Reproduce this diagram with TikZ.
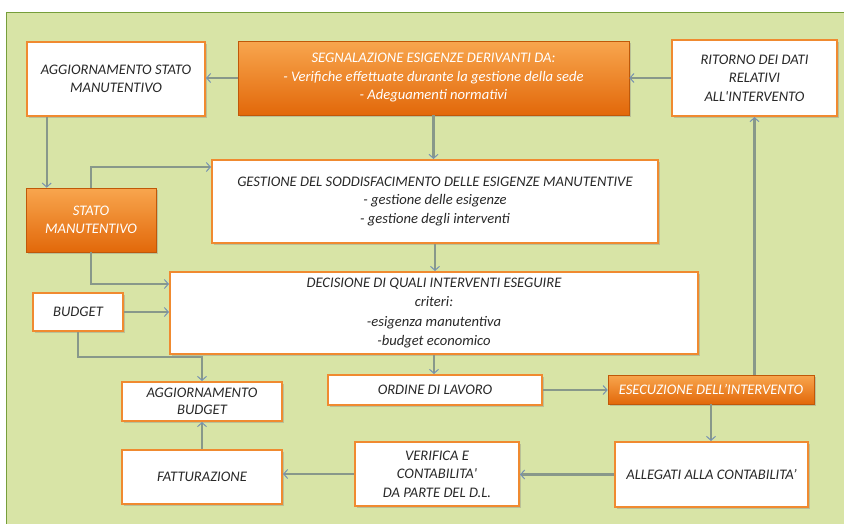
\documentclass[tikz,border=0pt]{standalone}
\usepackage{fontspec}
\setmainfont{Carlito}
\usetikzlibrary{arrows.meta,shadows}
\definecolor{panel}{RGB}{216,228,166}
\definecolor{panelb}{RGB}{118,158,58}
\definecolor{obord}{RGB}{240,138,48}
\definecolor{otop}{RGB}{248,166,78}
\definecolor{obot}{RGB}{226,104,10}
\definecolor{lin}{RGB}{136,152,138}
\definecolor{tip}{RGB}{118,146,178}
\definecolor{txt}{RGB}{40,40,40}
\begin{document}
\begin{tikzpicture}[x=1pt,y=-1pt,
  box/.style={rectangle, inner sep=0pt, align=center,
    font=\fontsize{14.6}{18.5}\selectfont\itshape,
    drop shadow={opacity=0.35,shadow xshift=1.5pt,shadow yshift=-1.5pt}},
  wbox/.style={box, draw=obord, line width=2pt, fill=white, text=txt},
  obox/.style={box, draw=obot!85!black, line width=0.6pt, top color=otop, bottom color=obot, text=white},
  conn/.style={draw=lin, line width=2.2pt,
    -{Straight Barb[length=4pt,width=9pt,line width=1pt,color=tip]}}
]
\useasboundingbox (0,0) rectangle (844,523);
\fill[white] (0,0) rectangle (844,523);
\draw[draw=panelb, fill=panel, line width=1pt] (6.5,12) rectangle (860,540);

\node[wbox, minimum width=178pt, minimum height=74pt] (aggst) at (116,79) {AGGIORNAMENTO STATO\\MANUTENTIVO};
\node[obox, minimum width=391pt, minimum height=74pt] (segn) at (433.5,78) {SEGNALAZIONE ESIGENZE DERIVANTI DA:\\- Verifiche effettuate durante la gestione della sede\\- Adeguamenti normativi};
\node[wbox, minimum width=165pt, minimum height=76pt] (rit) at (754.5,78) {RITORNO DEI DATI\\RELATIVI\\ALL\textquotesingle INTERVENTO};
\node[wbox, minimum width=446pt, minimum height=83pt] (gest) at (435,201.5) {GESTIONE DEL SODDISFACIMENTO DELLE ESIGENZE MANUTENTIVE\\- gestione delle esigenze\\- gestione degli interventi};
\node[obox, minimum width=130pt, minimum height=64pt] (stato) at (91,220) {STATO\\MANUTENTIVO};
\node[wbox, minimum width=528pt, minimum height=82pt, font=\fontsize{14.6}{19.5}\selectfont\itshape] (dec) at (434,313) {DECISIONE DI QUALI INTERVENTI ESEGUIRE\\criteri:\\-esigenza manutentiva\\-budget economico};
\node[wbox, minimum width=90pt, minimum height=38pt] (bud) at (78,312) {BUDGET};
\node[wbox, minimum width=160pt, minimum height=39pt, font=\fontsize{14.6}{17}\selectfont\itshape] (aggb) at (202,401.5) {AGGIORNAMENTO\\BUDGET};
\node[wbox, minimum width=214pt, minimum height=30pt] (ord) at (435,390) {ORDINE DI LAVORO};
\node[obox, minimum width=206pt, minimum height=29pt] (esec) at (711,389.5) {ESECUZIONE DELL’INTERVENTO};
\node[wbox, minimum width=160pt, minimum height=54pt] (fatt) at (202,477) {FATTURAZIONE};
\node[wbox, minimum width=164pt, minimum height=64pt] (ver) at (437,474) {VERIFICA E\\CONTABILITA\textquotesingle\\DA PARTE DEL D.L.};
\node[wbox, minimum width=193pt, minimum height=65pt] (alleg) at (711.5,474.5) {ALLEGATI ALLA CONTABILITA’};

\coordinate (a1) at ([xshift=21pt]stato.north west);
\draw[conn] (segn.west) -- (segn.west -| aggst.east);
\draw[conn] (rit.west) -- (rit.west -| segn.east);
\draw[conn] (segn.south) -- (segn.south |- gest.north);
\draw[conn] (a1 |- aggst.south) -- (a1);
\draw[conn] (stato.north) |- ([yshift=-8pt]gest.north west);
\draw[conn] (gest.south) -- (gest.south |- dec.north);
\draw[conn] (stato.south) |- ([yshift=-13pt]dec.north west);
\draw[conn] (bud.east) -- (bud.east -| dec.west);
\draw[conn] (bud.south) -- ++(0,25) -| (aggb.north);
\draw[conn] (dec.south) -- (dec.south |- ord.north);
\draw[conn] (ord.east) -- (ord.east -| esec.west);
\draw[conn] (esec.north -| rit.south) -- (rit.south);
\draw[conn] (esec.south) -- (esec.south |- alleg.north);
\draw[conn] (alleg.west) -- (alleg.west -| ver.east);
\draw[conn] (ver.west) -- (ver.west -| fatt.east);
\draw[conn] (fatt.north) -- (aggb.south);
\end{tikzpicture}
\end{document}
